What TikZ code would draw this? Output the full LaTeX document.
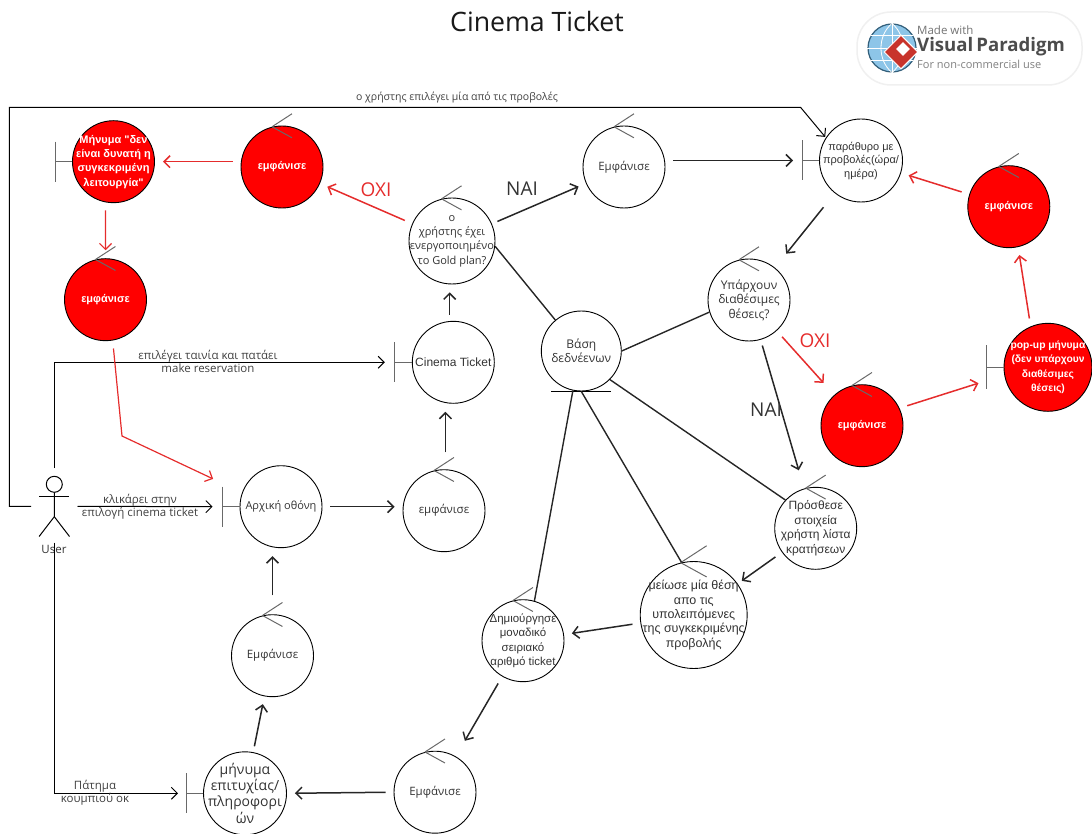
\documentclass[tikz,border=0pt]{standalone}
\usepackage{fontspec}
\setmainfont{Open Sans}
\newfontfamily\arialfont{Liberation Sans}
\usepackage{xcolor}
\usepackage{tikz}
\usetikzlibrary{arrows.meta,shapes.geometric}
\definecolor{redflow}{RGB}{229,44,44}
\definecolor{markgray}{RGB}{105,105,105}
\definecolor{globeblue}{RGB}{92,172,222}
\definecolor{logored}{RGB}{200,52,44}
\tikzset{
  control/.style={append after command={
    (\tikzlastnode.104) edge[chevron] ++(20*#1,-13*#1)
    (\tikzlastnode.104) edge[chevron] ++(20*#1,11*#1)}},
  control/.default=1,
  boundary/.style={append after command={
    (\tikzlastnode.west) edge[chevron] ++(-17,0)
    (\tikzlastnode.west) ++(-17,-#1) edge[chevron] ++(0,2*#1)}},
  boundary/.default=20,
  entity/.style={append after command={
    (\tikzlastnode.south) ++(-30,0) edge[stick] ++(60,0)}}
}
\begin{document}
\begin{tikzpicture}[x=1pt,y=-1pt]
\tikzstyle{main}=[circle, minimum size = 82pt, inner sep = -20pt, line width = .9pt, draw = black, align = center, text = black!80, font = \fontsize{12}{14.4}\selectfont]
\tikzstyle{narrow}=[font = \arialfont\fontsize{12}{14.4}\selectfont]
\tikzstyle{hot}=[main, fill = red, text = white, font = \arialfont\fontsize{11}{14.4}\selectfont\bfseries]
\tikzstyle{chevron}=[draw = markgray, line width = 1pt]
\tikzstyle{stick}=[draw = black, line width = 1pt]
\tikzstyle{connect}=[-{Straight Barb[length=6pt,width=12pt]}, line width = 1.5pt, draw = black!85, shorten <= 8pt, shorten >= 8pt]
\tikzstyle{redconnect}=[connect, draw = redflow]
\tikzstyle{elbow}=[connect, line width = 1pt, draw = black]
\tikzstyle{link}=[line width = 1.4pt, draw = black!85]
\tikzstyle{flowlabel}=[align = center, text = black!75, font = \fontsize{11.5}{13}\selectfont]
\tikzstyle{answer}=[font = \fontsize{19}{22}\selectfont]
\useasboundingbox (0,0) rectangle (1092,834);
  \node[font = \fontsize{26.7}{30}\selectfont, text = black!90] (title) at (537,21) {Cinema Ticket};

  \node[hot, boundary] (denied) at (113.5,161.7) {Μήνυμα "δεν\\είναι δυνατή η\\συγκεκριμένη\\λειτουργία"};
  \node[hot, control] (showdenied) at (282,167) {εμφάνισε};
  \node[hot, control] (showagain) at (105.5,299.7) {εμφάνισε};
  \node[main, control, minimum size = 86pt, font = \fontsize{11}{14.4}\selectfont] (gold) at (452,241) {ο\\χρήστης έχει\\ενεργοποιημένο\\το Gold plan?};
  \node[main, boundary, narrow] (cinema) at (453.3,362.3) {Cinema Ticket};
  \node[main, entity, minimum size = 80pt] (db) at (581.3,351) {Βάση\\δεδνέενων};
  \node[main, control, font = \fontsize{11.5}{14}\selectfont] (showwindow) at (624,167) {Εμφάνισε};
  \node[main, boundary, minimum size = 83pt, font = \arialfont\fontsize{11}{13.5}\selectfont] (window) at (861,160.5) {παράθυρο με\\προβολές(ώρα/\\ημέρα)};
  \node[main, control] (avail) at (749,300) {Υπάρχουν\\διαθέσιμες\\θέσεις?};
  \node[hot, control] (showback) at (1008.8,206.7) {εμφάνισε};
  \node[hot, boundary=22, minimum size = 88pt, font = \arialfont\fontsize{10.3}{14.4}\selectfont\bfseries] (popup) at (1048,367.3) {pop-up μήνυμα\\(δεν υπάρχουν\\διαθέσιμες\\θέσεις)};
  \node[hot, control] (shownoseat) at (862,425.7) {εμφάνισε};
  \node[main, control, narrow] (addinfo) at (815.7,528.3) {Πρόσθεσε\\στοιχεία\\χρήστη λίστα\\κρατήσεων};
  \node[main, control=1.3, minimum size = 107pt, font = \arialfont\fontsize{12.5}{14.4}\selectfont] (reduce) at (693.7,615) {μείωσε μία θέση\\απο τις\\υπολειπόμενες\\της συγκεκριμένης\\προβολής};
  \node[main, control, font = \arialfont\fontsize{11.5}{14.4}\selectfont] (serial) at (523,640.7) {Δημιούργησε\\μοναδικό\\σειριακό\\αριθμό ticket};
  \node[main, control, font = \fontsize{11.5}{14}\selectfont] (showok) at (435,792.2) {Εμφάνισε};
  \node[main, boundary, minimum size = 83pt, font = \fontsize{14}{16.2}\selectfont] (okmsg) at (245,793.3) {μήνυμα\\επιτυχίας/\\πληροφορι\\ών};
  \node[main, control, font = \fontsize{11.5}{14}\selectfont] (showhome) at (272.5,655.7) {Εμφάνισε};
  \node[main, boundary, font = \fontsize{11}{14}\selectfont] (home) at (281,506.7) {Αρχική οθόνη};
  \node[main, control, font = \fontsize{11.5}{14}\selectfont] (showstart) at (444,510.7) {εμφάνισε};

  \node[minimum width = 30pt, minimum height = 60pt, inner sep = 0pt] (user) at (54.3,506.3) {};
  \node[circle, stick, minimum size = 16pt, inner sep = 0pt] (userhead) at (54.3,484.3) {};
  \node[flowlabel, text = black!80] (userlabel) at (54,549) {User};
  \coordinate (userhip) at (54.3,516.7);
  \coordinate (userarml) at (39.3,496);
  \coordinate (userarmr) at (69.3,496);
  \draw[stick] (userhead) -- (userhip) -- (user.south west);
  \draw[stick] (userhip) -- (user.south east);
  \draw[stick] (userarml) -- (userarmr);

  \coordinate (loopa) at (9.3,506.3);
  \coordinate (loopb) at (9.3,107.5);
  \coordinate (loopc) at (800.7,107.5);
  \coordinate (kink) at (122,436);

  \draw[elbow, shorten >= 1pt] (user.west) -- (loopa) -- (loopb) -- (loopc) -- (window.147);
  \draw[elbow, shorten >= 27pt] (user.north) |- (cinema.west);
  \draw[elbow, shorten >= 27pt] (user) -- (home.west);
  \draw[elbow, shorten <= 6pt, shorten >= 25pt] (user.south) |- (okmsg.west);

  \draw[redconnect] (gold) -- (showdenied);
  \draw[redconnect] (showdenied.west |- denied.east) -- (denied.east);
  \draw[redconnect, line width = 1.2pt] (denied.-101) -- (showagain.north);
  \draw[redconnect, line width = 1.2pt, shorten >= 32pt] (showagain.-80) -- (kink) -- (home.160);
  \draw[redconnect, shorten >= 16pt] (avail) -- (shownoseat);
  \draw[redconnect, shorten >= 27pt] (shownoseat.25) -- (popup.190);
  \draw[redconnect] (popup.113) -- (showback.-77);
  \draw[redconnect] (showback) -- (window);

  \draw[connect, shorten <= 17pt] (showstart.88) -- (showstart.88 |- cinema.south);
  \draw[connect, shorten <= 6pt] (cinema.north -| gold.-93) -- (gold.-93);
  \draw[connect, shorten <= 6pt] (gold) -- (showwindow);
  \draw[connect, shorten >= 26pt] (showwindow.east |- window.west) -- (window.west);
  \draw[connect, shorten <= 18pt, shorten >= 18pt] (window) -- (avail);
  \draw[connect, shorten <= 6pt, shorten >= 19pt] (avail) -- (addinfo);
  \draw[connect, shorten >= 5pt] (addinfo) -- (reduce);
  \draw[connect] (reduce) -- (serial);
  \draw[connect, shorten >= 18pt] (serial) -- (showok);
  \draw[connect] (showok.west) -- (okmsg.east);
  \draw[connect, shorten <= 6pt] (okmsg) -- (showhome);
  \draw[connect, shorten <= 19pt] (showhome.north) -- (showhome.north |- home.south);
  \draw[connect] (home.east) -- (showstart.west |- home.east);

  \path (gold.-7) edge [link] (db.130)
        (db.east) edge [link] (avail.197)
        (db.-45) edge [link] (addinfo.137)
        (db.south) edge [link] (reduce.103)
        (db.-102) edge [link] (serial.74);

  \node[flowlabel, font = \fontsize{10.5}{13}\selectfont] (labelloop) at (457,98) {ο χρήστης επιλέγει μία από τις προβολές};
  \node[flowlabel] (labelpick) at (208,361) {επιλέγει ταινία και πατάει\\make reservation};
  \node[flowlabel] (labelclick) at (140,507) {κλικάρει στην\\επιλογή cinema ticket};
  \node[flowlabel] (labelok) at (95,793) {Πάτημα\\κουμπιού οκ};
  \node[answer, text = redflow] (nogold) at (376,190) {ΟΧΙ};
  \node[answer, text = black!80] (yesgold) at (522,189) {ΝΑΙ};
  \node[answer, text = redflow] (noseat) at (815,341) {ΟΧΙ};
  \node[answer, text = black!80] (yesseat) at (766,410) {ΝΑΙ};

  \node[rectangle, rounded corners = 34pt, minimum width = 225pt, minimum height = 73pt, fill = white, draw = black!6, line width = 1.5pt] (badge) at (969.5,48.5) {};
  \node[circle, minimum size = 48pt, fill = globeblue!70, draw = black!45!globeblue, line width = 1.2pt] (globe) at (892,48) {};
  \draw[white, line width = .8pt] (globe.north) -- (globe.south) (globe.west) -- (globe.east) (globe.150) -- (globe.30) (globe.-150) -- (globe.-30);
  \draw[white, line width = .8pt] (globe.north) to[bend right = 50] (globe.south);
  \draw[white, line width = .8pt] (globe.north) to[bend left = 50] (globe.south);
  \node[diamond, aspect = 1, minimum size = 34pt, inner sep = 0pt, fill = logored, draw = white, line width = 1pt] (logo) at (901,52) {};
  \node[diamond, aspect = 1, minimum size = 14pt, inner sep = 0pt, fill = white] (logoinner) at (903,49) {};
  \node[anchor = west, inner sep = 0pt, text = black!55, font = \fontsize{11.5}{14}\selectfont] (madewith) at (917,30) {Made with};
  \node[anchor = west, inner sep = 0pt, text = black!70, font = \fontsize{18.6}{20}\selectfont\bfseries] (vpname) at (917,47) {Visual\,Paradigm};
  \node[anchor = west, inner sep = 0pt, text = black!50, font = \fontsize{11}{14}\selectfont] (forwhom) at (917,64) {For non-commercial use};
\end{tikzpicture}
\end{document}
